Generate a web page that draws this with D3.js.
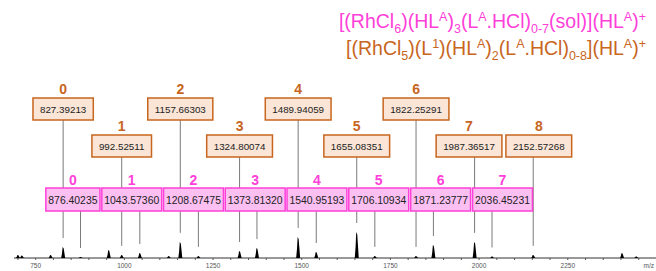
<!DOCTYPE html>
<html lang="en">
<head>
	<meta charset="UTF-8">
	<title>Mass spectrum</title>
	<script src="https://cdn.jsdelivr.net/npm/d3@7"></script>
	<style>
		body { margin: 0; background: #fff; }
		text { font-family: "Liberation Sans", Arial, sans-serif; }
	</style>
</head>
<body>
	<div id="container"></div>
	<script>
		var width = 656;
		var height = 271;

		// spectrum peaks (m/z, relative intensity)
		var peakMz  = [700, 711, 792, 827.4, 876.4, 956, 992.5, 1043.6, 1125, 1157.7, 1208.7, 1324.8, 1373.8, 1489.9, 1540.9, 1655.1, 1706.1, 1822.3, 1871.2, 1987.4, 2036.5, 2152.6, 2403, 2443];
		var peakInt = [12, 10, 12, 42, 4, 31, 12, 19, 8, 62, 8, 27, 38, 81, 23, 100, 8, 8, 50, 62, 6, 12, 19, 6];

		// orange series labels
		var orangeMz = [827.39213, 992.52511, 1157.66303, 1324.80074, 1489.94059, 1655.08351, 1822.25291, 1987.36517, 2152.57268];
		var orangeN = [0, 1, 2, 3, 4, 5, 6, 7, 8];
		var orangeRow = [0, 1, 0, 1, 0, 1, 0, 1, 1];

		// pink series labels
		var pinkMz = [876.40235, 1043.57360, 1208.67475, 1373.81320, 1540.95193, 1706.10934, 1871.23777, 2036.45231];
		var pinkN = [0, 1, 2, 3, 4, 5, 6, 7];

		var tickValues = [750, 1000, 1250, 1500, 1750, 2000, 2250];
		var minorTicks = d3.range(700, 2500, 50);

		// formula text: s = 0 normal, -1 sub, 1 sup
		var pinkTitle = [["[(RhCl",0],["6",-1],[")(HL",0],["A",1],[")",0],["3",-1],["(L",0],["A",1],[".HCl)",0],["0-7",-1],["(sol)](HL",0],["A",1],[")",0],["+",1]];
		var orangeTitle = [["[(RhCl",0],["5",-1],[")(L",0],["1",1],[")(HL",0],["A",1],[")",0],["2",-1],["(L",0],["A",1],[".HCl)",0],["0-8",-1],["](HL",0],["A",1],[")",0],["+",1]];

		var ORANGE = "#c8651e", ORANGE_FILL = "#fbe5d6";
		var PINK = "#ff40d9", PINK_FILL = "#fbbff2";
		var LEADER = "#7a7a7a";

		var svg = d3.select("#container").append("svg")
				.attr("width", width)
				.attr("height", height);

		var x = d3.scaleLinear()
				.domain([690, 2490])
				.range([14.4, 652.9]);
		var y = d3.scaleLinear()
				.domain([0, 100])
				.range([258, 232]);

		function peakTop(mz) {
			var i = d3.minIndex(peakMz, function(d) { return Math.abs(d - mz); });
			return y(peakInt[i]);
		}

		// titles
		function drawTitle(parts, yy, color) {
			var t = svg.append("text")
					.attr("x", 646)
					.attr("y", yy)
					.attr("text-anchor", "end")
					.attr("fill", color)
					.style("font-size", "19.5px");
			var shift = 0;
			parts.forEach(function(p) {
				var target = p[1] == -1 ? 5 : (p[1] == 1 ? -7 : 0);
				t.append("tspan")
					.attr("dy", target - shift)
					.style("font-size", p[1] == 0 ? "19.5px" : "12.5px")
					.text(p[0]);
				shift = target;
			});
		}
		drawTitle(pinkTitle, 28, PINK);
		drawTitle(orangeTitle, 55, ORANGE);

		// axis
		var axisY = y(0);
		svg.append("line")
			.attr("x1", 14).attr("x2", 656)
			.attr("y1", axisY).attr("y2", axisY)
			.style("stroke", "#333").style("stroke-width", 1);
		svg.selectAll(".minor").data(minorTicks)
			.enter().append("line")
				.attr("x1", function(d) { return x(d); })
				.attr("x2", function(d) { return x(d); })
				.attr("y1", axisY).attr("y2", axisY + 2)
				.style("stroke", "#555");
		svg.selectAll(".ticklab").data(tickValues)
			.enter().append("text")
				.attr("x", function(d) { return x(d); })
				.attr("y", axisY + 10)
				.attr("text-anchor", "middle")
				.attr("fill", "#555")
				.style("font-size", "6.5px")
				.text(function(d) { return d; });
		svg.append("text")
			.attr("x", 654).attr("y", axisY + 10)
			.attr("text-anchor", "end")
			.attr("fill", "#555")
			.style("font-size", "6.5px")
			.text("m/z");

		// peaks
		var peaks = peakMz.map(function(d, i) { return [d, peakInt[i]]; });
		svg.selectAll(".peak").data(peaks)
			.enter().append("path")
				.attr("d", function(d) {
					var px = x(d[0]);
					return "M" + (px - 2) + "," + axisY
						+ "L" + (px - 1.2) + "," + y(d[1] * 0.4)
						+ "L" + (px - 0.5) + "," + y(d[1])
						+ "L" + (px + 0.5) + "," + y(d[1] * 0.9)
						+ "L" + (px + 1.2) + "," + y(d[1] * 0.5)
						+ "L" + (px + 2) + "," + axisY + "Z";
				})
				.attr("fill", "#000");

		// box layout helper: centre on peak, push overlapping neighbours apart
		function layout(centres, widths, gap) {
			var c = centres.slice();
			for (var it = 0; it < 20; it++) {
				for (var i = 1; i < c.length; i++) {
					var need = (widths[i - 1] + widths[i]) / 2 + gap;
					var d = c[i] - c[i - 1];
					if (d < need) {
						c[i - 1] -= (need - d) / 2;
						c[i] += (need - d) / 2;
					}
				}
			}
			return c;
		}

		function measure(str, size) {
			var t = svg.append("text").style("font-size", size).text(str);
			var w = t.node().getComputedTextLength();
			t.remove();
			return w;
		}

		var fmt = d3.format(".5f");
		var rowTop = [98, 135];
		var boxH = 22;

		// orange leaders + boxes
		var orange = orangeMz.map(function(d, i) {
			return { mz: d, n: orangeN[i], row: orangeRow[i], w: measure(fmt(d), "9.8px") + 14 };
		});
		[0, 1].forEach(function(r) {
			var items = orange.filter(function(o) { return o.row == r; });
			var cs = layout(items.map(function(o) { return x(o.mz); }), items.map(function(o) { return o.w; }), 4);
			items.forEach(function(o, i) { o.cx = cs[i]; });
		});

		svg.selectAll(".oleader").data(orange)
			.enter().append("line")
				.attr("x1", function(d) { return x(d.mz); })
				.attr("x2", function(d) { return x(d.mz); })
				.attr("y1", function(d) { return rowTop[d.row] + boxH; })
				.attr("y2", function(d) { return peakTop(d.mz) - 9; })
				.style("stroke", LEADER).style("stroke-width", 1);

		var og = svg.selectAll(".obox").data(orange)
			.enter().append("g");
		og.append("rect")
			.attr("x", function(d) { return d.cx - d.w / 2; })
			.attr("y", function(d) { return rowTop[d.row]; })
			.attr("width", function(d) { return d.w; })
			.attr("height", boxH)
			.attr("fill", ORANGE_FILL)
			.attr("stroke", ORANGE).attr("stroke-width", 1.5);
		og.append("text")
			.attr("x", function(d) { return d.cx; })
			.attr("y", function(d) { return rowTop[d.row] + 15; })
			.attr("text-anchor", "middle")
			.attr("fill", "#222")
			.style("font-size", "9.8px")
			.text(function(d) { return fmt(d.mz); });
		og.append("text")
			.attr("x", function(d) { return d.cx; })
			.attr("y", function(d) { return rowTop[d.row] - 4; })
			.attr("text-anchor", "middle")
			.attr("fill", ORANGE)
			.style("font-size", "14px").style("font-weight", "bold")
			.text(function(d) { return d.n; });

		// pink leaders + boxes
		var pinkTop = 188, pinkH = 23;
		var pink = pinkMz.map(function(d, i) {
			return { mz: d, n: pinkN[i], w: measure(fmt(d), "10.4px") + 5 };
		});
		var pcs = layout(pink.map(function(o) { return x(o.mz); }), pink.map(function(o) { return o.w; }), 2);
		pink.forEach(function(o, i) { o.cx = pcs[i]; });

		svg.selectAll(".pleader").data(pink)
			.enter().append("line")
				.attr("x1", function(d) { return x(d.mz); })
				.attr("x2", function(d) { return x(d.mz); })
				.attr("y1", pinkTop + pinkH)
				.attr("y2", function(d) { return peakTop(d.mz) - 9; })
				.style("stroke", LEADER).style("stroke-width", 1);

		var pg = svg.selectAll(".pbox").data(pink)
			.enter().append("g");
		pg.append("rect")
			.attr("x", function(d) { return d.cx - d.w / 2; })
			.attr("y", pinkTop)
			.attr("width", function(d) { return d.w; })
			.attr("height", pinkH)
			.attr("fill", PINK_FILL)
			.attr("stroke", PINK).attr("stroke-width", 1.5);
		pg.append("text")
			.attr("x", function(d) { return d.cx; })
			.attr("y", pinkTop + 15.5)
			.attr("text-anchor", "middle")
			.attr("fill", "#222")
			.style("font-size", "10.4px")
			.text(function(d) { return fmt(d.mz); });
		pg.append("text")
			.attr("x", function(d) { return d.cx; })
			.attr("y", pinkTop - 3)
			.attr("text-anchor", "middle")
			.attr("fill", PINK)
			.style("font-size", "14px").style("font-weight", "bold")
			.text(function(d) { return d.n; });
	</script>
</body>
</html>
